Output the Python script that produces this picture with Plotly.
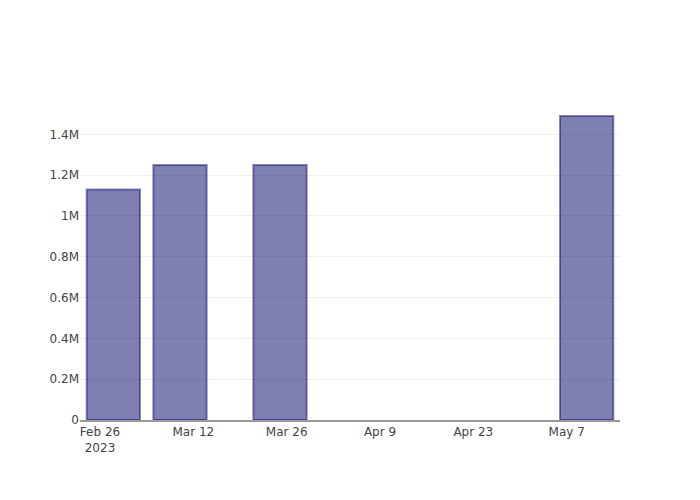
import plotly.graph_objects as go

dates = ['2023-02-28', '2023-03-10', '2023-03-25', '2023-05-10']
values = [1130000, 1250000, 1250000, 1490000]

fig = go.Figure(go.Bar(
    x=dates,
    y=values,
    marker=dict(color='rgba(0,0,100,0.5)',
                line=dict(color='rgba(0,0,100,0.45)', width=2)),
))
fig.update_layout(
    width=700, height=500,
    template='none',
    plot_bgcolor='white', paper_bgcolor='white',
    font=dict(family='DejaVu Sans', size=12, color='#444'),
    margin=dict(t=100, b=80, l=80, r=80),
    xaxis=dict(showgrid=False, showline=True, linecolor='#999', linewidth=1.5,
               ticks='', zeroline=False),
    yaxis=dict(showgrid=True, gridcolor='#eee', zeroline=False, ticks='',
               showline=False),
)
# page body margin off so the figure sits at the top-left corner
fig.write_html("out.html", config={'displayModeBar': False},
               post_script="document.body.style.margin='0px';")
